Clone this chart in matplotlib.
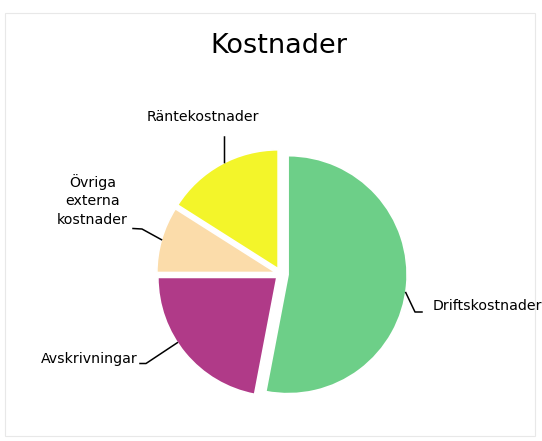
import numpy as np
import matplotlib.pyplot as plt
from matplotlib.patches import Rectangle

labels = ["Driftskostnader", "Avskrivningar", "Övriga\nexterna\nkostnader", "Räntekostnader"]
values = [53, 22, 9, 16]
colors = ["#6dcf88", "#b03a88", "#fbdcaa", "#f3f52a"]
explode = [0.06, 0.045, 0.045, 0.05]

W, H = 542, 441
CX, CY, R = 281, 274, 119  # pie centre and radius in pixels


def px(x, y):
    return (x - CX) / R, (CY - y) / R


fig = plt.figure(figsize=(W / 100, H / 100), dpi=100)
ax = fig.add_axes([0, 0, 1, 1])

wedges, _ = ax.pie(values, colors=colors, explode=explode, startangle=90,
                   counterclock=False, radius=1,
                   wedgeprops=dict(edgecolor="white", linewidth=1.2))

ax.set_xlim(px(0, 0)[0], px(W, 0)[0])
ax.set_ylim(px(0, H)[1], px(0, 0)[1])
ax.set_aspect("equal")
ax.axis("off")

# faint frame of the scanned chart area
ax.add_patch(Rectangle(px(5, 436), 530 / R, 423 / R, fill=False,
                       edgecolor="#e8e8e8", lw=0.8))

ax.text(*px(279, 53), "Kostnader", ha="center", va="baseline", fontsize=19.5)

# label anchor (x, first baseline), ha, leader elbow points, position on arc
layout = [
    ((433, 310), "left", [(422, 312), (415, 312)], 0.483),
    ((138, 363), "right", [(140, 363.5), (146, 363.5)], 0.42),
    ((92.5, 187), "center", [(133, 228.5), (142, 229)], 0.506),
    ((202.5, 121.5), "center", [(224.5, 137)], 0.465),
]

for w, lab, (tpos, ha, elbow, frac) in zip(wedges, labels, layout):
    for i, line in enumerate(lab.split("\n")):
        ax.text(*px(tpos[0], tpos[1] + i * 18.3), line, ha=ha,
                va="baseline", fontsize=10.2)
    a = np.deg2rad(w.theta1 + frac * (w.theta2 - w.theta1))
    cx, cy = w.center
    anchor = (cx + w.r * np.cos(a), cy + w.r * np.sin(a))
    pts = [px(*p) for p in elbow] + [anchor]
    xs, ys = zip(*pts)
    ax.plot(xs, ys, color="black", lw=1.1)

fig.savefig("out.png", dpi=100)
